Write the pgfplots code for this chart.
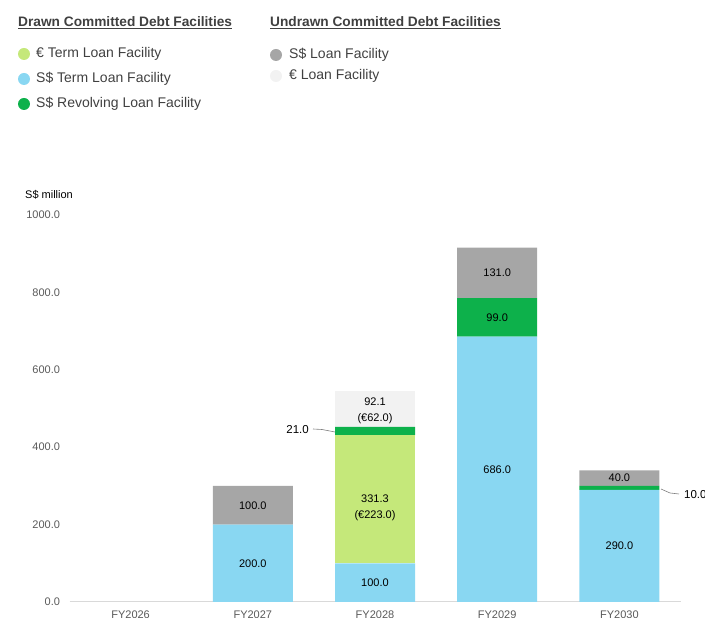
\documentclass[border=0pt]{standalone}
\usepackage{pgfplots}
\pgfplotsset{compat=1.18}
\usepackage{fontspec}
\setmainfont{Liberation Sans}
\definecolor{cEterm}{HTML}{C5E87A}
\definecolor{cSterm}{HTML}{89D7F2}
\definecolor{cRevol}{HTML}{0DB14B}
\definecolor{cSloan}{HTML}{A6A6A6}
\definecolor{cEloan}{HTML}{F2F2F2}
\definecolor{cTxt}{HTML}{404040}
\definecolor{cTick}{HTML}{595959}
\definecolor{cAxis}{HTML}{D9D9D9}
\begin{document}
\begin{tikzpicture}[x=1pt,y=1pt]
\useasboundingbox (0,0) rectangle (705,618);
\clip (0,0) rectangle (705,618);
% titles and legend
\node[anchor=base west, inner sep=0, font=\bfseries\fontsize{13.7}{16}\selectfont, text=cTxt] at (18,591) {\underline{Drawn Committed Debt Facilities}};
\node[anchor=base west, inner sep=0, font=\bfseries\fontsize{13.7}{16}\selectfont, text=cTxt] at (270,591) {\underline{Undrawn Committed Debt Facilities}};
\fill[cEterm] (24,564) circle (6);
\fill[cSterm] (24,539) circle (6);
\fill[cRevol] (24,514) circle (6);
\fill[cSloan] (276,563) circle (6);
\fill[cEloan] (276,542) circle (6);
\node[anchor=west, inner sep=0, font=\fontsize{14}{16}\selectfont, text=cTxt] at (36,564) {€ Term Loan Facility};
\node[anchor=west, inner sep=0, font=\fontsize{14}{16}\selectfont, text=cTxt] at (36,539) {S\$ Term Loan Facility};
\node[anchor=west, inner sep=0, font=\fontsize{14}{16}\selectfont, text=cTxt] at (36,514) {S\$ Revolving Loan Facility};
\node[anchor=west, inner sep=0, font=\fontsize{14}{16}\selectfont, text=cTxt] at (289,563) {S\$ Loan Facility};
\node[anchor=west, inner sep=0, font=\fontsize{14}{16}\selectfont, text=cTxt] at (289,542) {€ Loan Facility};
\node[anchor=west, inner sep=0, font=\fontsize{11}{13}\selectfont, text=black] at (25,423) {S\$ million};
\begin{axis}[
  at={(69.5pt,16pt)}, anchor=south west,
  scale only axis, width=611pt, height=387pt,
  xmin=-0.5, xmax=4.5, ymin=0, ymax=1000,
  ybar stacked, bar width=80pt,
  axis lines*=left,
  x axis line style={draw=cAxis, line width=1pt},
  y axis line style={draw=none},
  major tick length=0pt,
  xtick={0,1,2,3,4},
  xticklabels={FY2026,FY2027,FY2028,FY2029,FY2030},
  ytick={0,200,400,600,800,1000},
  /pgf/number format/assume math mode=true,
  yticklabel style={xshift=-6pt, /pgf/number format/fixed, /pgf/number format/fixed zerofill, /pgf/number format/precision=1, /pgf/number format/1000 sep={}},
  tick label style={font=\fontsize{11}{13}\selectfont, text=cTick},
  xticklabel style={yshift=-5pt},
  clip=false,
]
\addplot[fill=cSterm, draw=none] coordinates {(0,0) (1,200) (2,100) (3,686) (4,290)};
\addplot[fill=cEterm, draw=none] coordinates {(0,0) (1,0) (2,331.3) (3,0) (4,0)};
\addplot[fill=cRevol, draw=none] coordinates {(0,0) (1,0) (2,21) (3,99) (4,10)};
\addplot[fill=cSloan, draw=none] coordinates {(0,0) (1,100) (2,0) (3,131) (4,40)};
\addplot[fill=cEloan, draw=none] coordinates {(0,0) (1,0) (2,92.1) (3,0) (4,0)};
\coordinate (a1) at (axis cs:1,100);
\coordinate (a2) at (axis cs:1,250);
\coordinate (b1) at (axis cs:2,50);
\coordinate (b2) at (axis cs:2,243);
\coordinate (b3) at (axis cs:2,495);
\coordinate (c1) at (axis cs:3,343);
\coordinate (c2) at (axis cs:3,735.5);
\coordinate (c3) at (axis cs:3,850.5);
\coordinate (d1) at (axis cs:4,145);
\coordinate (d2) at (axis cs:4,320);
\end{axis}
\begin{scope}[every node/.style={font=\fontsize{11}{16}\selectfont, align=center, text=black}]
\node at (a1) {200.0};
\node at (a2) {100.0};
\node at (b1) {100.0};
\node at (b2) {331.3\\(€223.0)};
\node at (b3) {92.1\\(€62.0)};
\node at (c1) {686.0};
\node at (c2) {99.0};
\node at (c3) {131.0};
\node at (d1) {290.0};
\node at (d2) {40.0};
\end{scope}
\draw[gray, line width=0.6pt] (335,186) -- (322,188.5) -- (313,189);
\node[anchor=east, inner sep=0, font=\fontsize{11.5}{13}\selectfont] at (309,188) {21.0};
\draw[gray, line width=0.6pt] (661,129) -- (670,125) -- (679,124);
\node[anchor=west, inner sep=0, font=\fontsize{11.5}{13}\selectfont] at (684,123) {10.0};
\end{tikzpicture}
\end{document}
